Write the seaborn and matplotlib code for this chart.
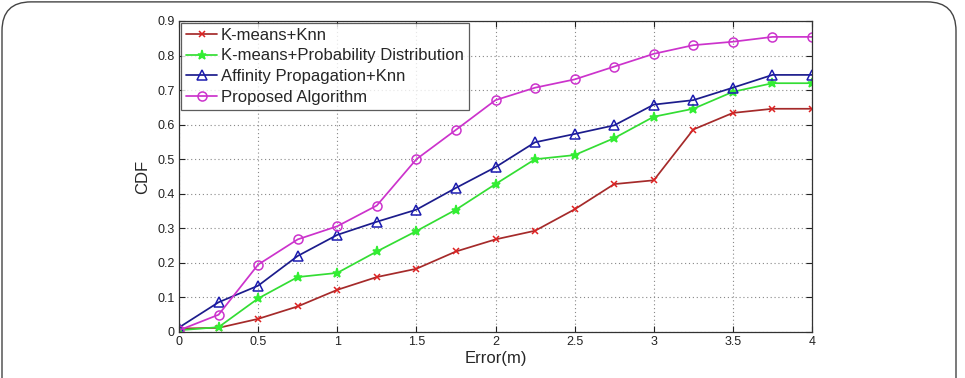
import numpy as np
import pandas as pd
import seaborn as sns
import matplotlib
matplotlib.use("Agg")
import matplotlib.pyplot as plt
from matplotlib.patches import FancyBboxPatch

error = [0, 0.25, 0.5, 0.75, 1.0, 1.25, 1.5, 1.75, 2.0, 2.25, 2.5, 2.75, 3.0, 3.25, 3.5, 3.75, 4.0]
kmeans_knn = [0.010, 0.012, 0.038, 0.074, 0.122, 0.159, 0.183, 0.233, 0.268, 0.293, 0.355, 0.428, 0.439, 0.586, 0.634, 0.646, 0.646]
kmeans_prob = [0.005, 0.014, 0.097, 0.159, 0.171, 0.233, 0.292, 0.354, 0.428, 0.500, 0.512, 0.561, 0.623, 0.646, 0.695, 0.720, 0.720]
affinity_knn = [0.013, 0.086, 0.134, 0.220, 0.281, 0.319, 0.354, 0.417, 0.477, 0.549, 0.573, 0.598, 0.658, 0.671, 0.707, 0.744, 0.744]
proposed = [0.005, 0.050, 0.195, 0.268, 0.306, 0.366, 0.500, 0.585, 0.671, 0.707, 0.731, 0.768, 0.805, 0.830, 0.840, 0.854, 0.854]

series_names = ["K-means+Knn", "K-means+Probability Distribution",
                "Affinity Propagation+Knn", "Proposed Algorithm"]
series_values = [kmeans_knn, kmeans_prob, affinity_knn, proposed]
line_colors = ["#a52a2a", "#33dd33", "#1c1c8c", "#cc33cc"]
marker_colors = ["#dd2222", "#33ee33", "#1c1cb0", "#cc33cc"]
markers = ["x", "*", "^", "o"]
msizes = [5, 6.5, 6.5, 6.5]
hollow = [False, False, True, True]

rows = []
for name, vals in zip(series_names, series_values):
    for x, y in zip(error, vals):
        rows.append({"Error": x, "CDF": y, "Method": name})
df = pd.DataFrame(rows)

sns.set_theme(style="white")
plt.rcParams["font.family"] = ["Liberation Sans", "DejaVu Sans"]

fig = plt.figure(figsize=(9.65, 3.78), dpi=100)
ax = fig.add_axes([179/965, 1 - 332/378, (812-179)/965, (332-21)/378])

for i, name in enumerate(series_names):
    sub = df[df["Method"] == name]
    kw = dict(marker=markers[i], markersize=msizes[i], markeredgewidth=1.1)
    if hollow[i]:
        kw["markerfacecolor"] = "none"
        kw["markeredgecolor"] = marker_colors[i]
    else:
        kw["markerfacecolor"] = marker_colors[i]
        kw["markeredgecolor"] = marker_colors[i]
    sns.lineplot(data=sub, x="Error", y="CDF", ax=ax, color=line_colors[i],
                 linewidth=1.25, label=name, **kw)

ax.set_xlim(0, 4)
ax.set_ylim(0, 0.9)
xt = [0, 0.5, 1, 1.5, 2, 2.5, 3, 3.5, 4]
yt = [0, 0.1, 0.2, 0.3, 0.4, 0.5, 0.6, 0.7, 0.8, 0.9]
ax.set_xticks(xt)
ax.set_xticklabels(["0", "0.5", "1", "1.5", "2", "2.5", "3", "3.5", "4"])
ax.set_yticks(yt)
ax.set_yticklabels(["0", "0.1", "0.2", "0.3", "0.4", "0.5", "0.6", "0.7", "0.8", "0.9"])
ax.tick_params(direction="in", length=4, width=0.8, labelsize=9, pad=3,
               top=True, right=True, bottom=True, left=True, colors="#222222")
ax.grid(True, linestyle=(0, (1, 2.5)), color="#888888", linewidth=0.8)
for s in ax.spines.values():
    s.set_color("#333333")
    s.set_linewidth(0.9)
ax.set_xlabel("Error(m)", fontsize=12, labelpad=2)
ax.set_ylabel("CDF", fontsize=12, labelpad=5)

leg = ax.legend(loc="upper left", fontsize=12, frameon=True, fancybox=False,
                borderaxespad=0.1, handlelength=1.9, handletextpad=0.2,
                labelspacing=0.35, borderpad=0.3)
leg.get_frame().set_edgecolor("#333333")
leg.get_frame().set_linewidth(0.9)

frame = FancyBboxPatch((2/965, -0.2), 954/965, 1.195, transform=fig.transFigure,
                       boxstyle="round,pad=0,rounding_size=0.03",
                       facecolor="none", edgecolor="#444444", linewidth=1.0,
                       mutation_aspect=965/378)
fig.patches.append(frame)

fig.savefig("out.png", dpi=100)
